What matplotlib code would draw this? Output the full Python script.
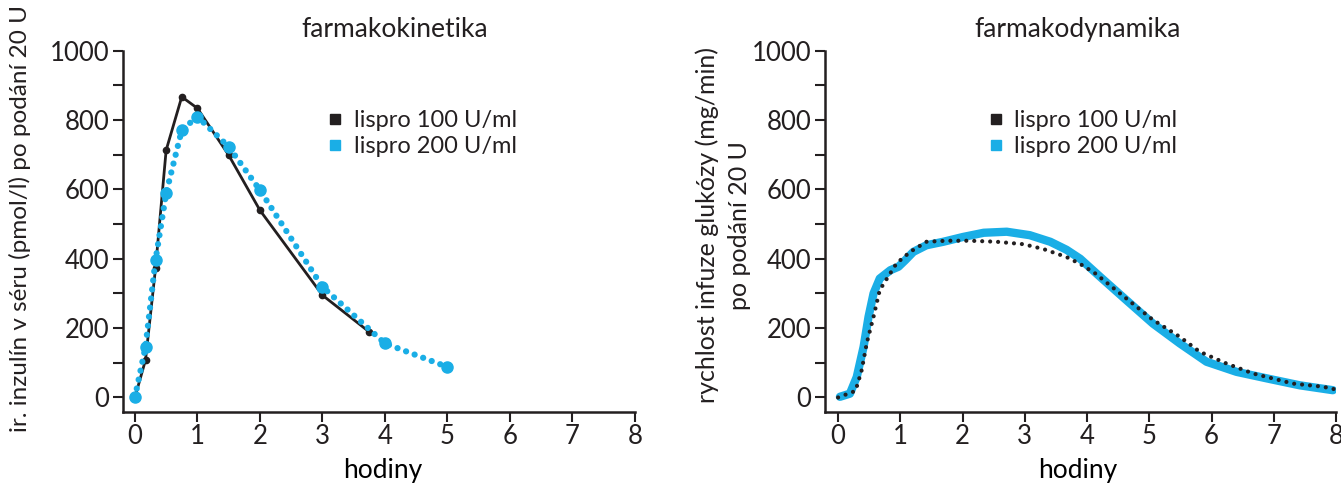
import matplotlib
matplotlib.use("Agg")
import matplotlib.pyplot as plt
from matplotlib.lines import Line2D

# --- data --------------------------------------------------------------
# pharmacokinetics: serum insulin (pmol/l) after 20 U
pk_t_100 = [0, 0.17, 0.33, 0.5, 0.75, 1.0, 1.5, 2.0, 3.0, 3.75]
pk_y_100 = [0, 108, 372, 713, 867, 834, 699, 540, 295, 189]
pk_t_200 = [0, 0.17, 0.33, 0.5, 0.75, 1.0, 1.5, 2.0, 3.0, 4.0, 5.0]
pk_y_200 = [0, 146, 396, 589, 771, 810, 723, 598, 319, 156, 88]

# pharmacodynamics: glucose infusion rate (mg/min)
pd_t_100 = [0, 0.28, 0.38, 0.46, 0.57, 0.67, 0.94, 1.16, 1.42, 1.75, 2.12,
            2.55, 2.98, 3.30, 3.67, 3.89, 4.13, 4.6, 5.05, 5.49, 5.81,
            6.24, 6.67, 7.31, 7.79, 7.97]
pd_y_100 = [0, 19, 79, 156, 233, 310, 387, 420, 449, 452, 452,
            449, 442, 428, 405, 385, 358, 290, 225, 175, 132,
            98, 69, 40, 31, 24]
pd_t_200 = [0.03, 0.19, 0.30, 0.41, 0.49, 0.57, 0.67, 0.84, 0.97, 1.08,
            1.21, 1.42, 1.69, 2.01, 2.34, 2.71, 3.08, 3.41, 3.67, 3.89,
            4.21, 4.63, 5.06, 5.49, 5.92, 6.40, 6.89, 7.42, 7.95]
pd_y_200 = [2, 11, 59, 146, 233, 300, 343, 367, 377, 396,
            420, 439, 449, 463, 475, 478, 468, 449, 426, 400,
            348, 281, 213, 156, 103, 74, 55, 35, 21]

labels = ["lispro 100 U/ml", "lispro 200 U/ml"]
titles = ["farmakokinetika", "farmakodynamika"]
xticks = list(range(0, 9))
yticks = [0, 200, 400, 600, 800, 1000]
yminor = [100, 300, 500, 700, 900]

BLACK = "#231f20"
BLUE = "#1aaee6"

plt.rcParams["font.family"] = ["Lato", "DejaVu Sans"]
plt.rcParams["font.size"] = 18
plt.rcParams["text.color"] = BLACK

W, H = 1341, 484
fig = plt.figure(figsize=(W / 100, H / 100), dpi=100)


def px_axes(x0, x1, y_top, y_bot):
    return fig.add_axes([x0 / W, 1 - y_bot / H, (x1 - x0) / W, (y_bot - y_top) / H])


ax1 = px_axes(123, 635, 50.7, 411.7)
ax2 = px_axes(825, 1336, 50.7, 411.7)

for ax, xl in [(ax1, -0.19), (ax2, -0.21)]:
    ax.set_xlim(xl, 8)
    ax.set_ylim(-41, 1000)
    for s in ["top", "right"]:
        ax.spines[s].set_visible(False)
    for s in ["left", "bottom"]:
        ax.spines[s].set_linewidth(1.8)
        ax.spines[s].set_color(BLACK)
    ax.set_xticks(xticks)
    ax.set_yticks(yticks)
    ax.set_yticks(yminor, minor=True)
    ax.tick_params(which="both", direction="out", length=7, width=1.5,
                   color=BLACK, labelcolor=BLACK, labelsize=18.5)
    ax.tick_params(axis="y", pad=3)
    ax.tick_params(axis="x", pad=2)
    ax.patch.set_alpha(0)

# --- farmakokinetika ---
ax1.plot(pk_t_100, pk_y_100, "-", color=BLACK, lw=2.0, marker="o", ms=4.5,
         zorder=3)
ax1.plot(pk_t_200, pk_y_200, color=BLUE, lw=4.5, ls=(0, (0.01, 1.45)),
         dash_capstyle="round", zorder=4)
ax1.plot(pk_t_200, pk_y_200, "o", color=BLUE, ms=8, zorder=5)

# --- farmakodynamika ---
ax2.plot(pd_t_100, pd_y_100, color=BLACK, lw=3.0, ls=(0, (0.01, 1.9)),
         dash_capstyle="round", zorder=3)
ax2.plot(pd_t_200, pd_y_200, "-", color=BLUE, lw=6, solid_capstyle="round",
         solid_joinstyle="round", zorder=2)

handles = [Line2D([], [], ls="none", marker="s", ms=7, color=BLACK),
           Line2D([], [], ls="none", marker="s", ms=7, color=BLUE)]
for ax, bx in [(ax1, 0.40), (ax2, 0.32)]:
    ax.legend(handles, labels, loc="upper left", bbox_to_anchor=(bx, 0.835),
              frameon=False, fontsize=17, handlelength=0.6, handletextpad=0.5,
              labelspacing=0.2, borderpad=0, borderaxespad=0)

ax1.set_title(titles[0], x=0.531, pad=10, fontsize=19)
ax2.set_title(titles[1], x=0.495, pad=10, fontsize=19)
ax1.set_xlabel("hodiny", fontsize=19)
ax2.set_xlabel("hodiny", fontsize=19)
ax1.xaxis.set_label_coords(0.508, -0.128)
ax2.xaxis.set_label_coords(0.495, -0.128)

fig.text(20 / W, 1 - 219 / H, "ir. inzulín v séru (pmol/l) po podání 20 U",
         rotation=90, ha="center", va="center", fontsize=17.5)
fig.text(723 / W, 1 - 225 / H, "rychlost infuze glukózy (mg/min)\npo podání 20 U",
         rotation=90, ha="center", va="center", fontsize=18, multialignment="center",
         linespacing=1.45)

fig.savefig("out.png", dpi=100)
